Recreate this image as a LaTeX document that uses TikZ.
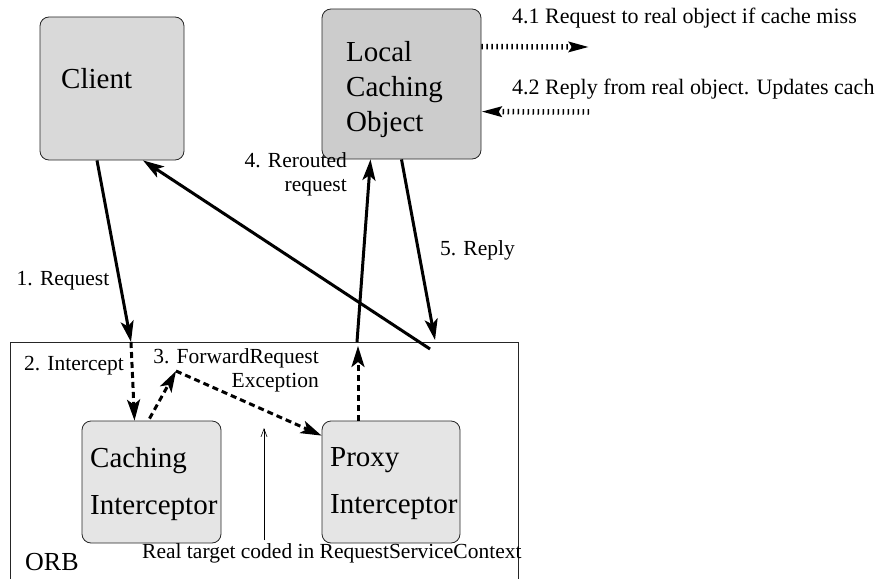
\documentclass[tikz,border=0pt]{standalone}
\usepackage{fontspec}
\setmainfont{Liberation Serif}
\usetikzlibrary{arrows.meta}

\tikzset{
  box/.style={draw=black!85, line width=.8pt, rounded corners=9pt},
  boxtext/.style={inner sep=0pt, anchor=west, align=left,
    font=\fontsize{29}{35}\selectfont},
  lbl/.style={inner sep=0pt, font=\fontsize{21.5}{24}\selectfont},
  flow/.style={line width=3pt, -{Stealth[length=21pt,width=13pt,inset=5pt]}},
  hop/.style={flow, dash pattern=on 6pt off 4pt},
  remote/.style={line width=5.5pt, dash pattern=on 1.5pt off 3.5pt,
    -{Stealth[length=20pt,width=10pt,inset=3pt]}}
}

\begin{document}
\begin{tikzpicture}[x=1pt, y=-1pt]
\useasboundingbox (0,0) rectangle (875,578);

% boxes
\node[box, fill=black!15, minimum width=144, minimum height=143] (client) at (112,88.5) {};
\node[box, fill=black!20, minimum width=159, minimum height=150] (lco) at (401.5,84) {};
\node[draw=black!85, line width=.8pt, anchor=north west, minimum width=508,
  minimum height=260] (orb) at (10,342) {};
\node[box, fill=black!10, minimum width=139, minimum height=122] (cachint) at (151.5,482) {};
\node[box, fill=black!10, minimum width=138, minimum height=122] (proxyint) at (391,482) {};

\node[boxtext] (clientlbl) at (61,79) {Client};
\node[boxtext] (lcolbl) at (346,90) {Local\\Caching\\Object};
\node[boxtext, font=\fontsize{29}{47}\selectfont] (cachlbl) at (90,484) {Caching\\Interceptor};
\node[boxtext, font=\fontsize{29}{47}\selectfont] (proxlbl) at (330,484) {Proxy\\Interceptor};
\node[boxtext, font=\fontsize{26}{30}\selectfont] (orblbl) at (25,562) {ORB};

% points on the ORB border and outside
\coordinate (reqin) at (131,342);
\coordinate (fwd) at (176,371);
\coordinate (proxyout) at (358,346);
\coordinate (rerout) at (357,342);
\coordinate (replyin) at (435,340);
\coordinate (replyout) at (430,349);
\coordinate (missout) at (589,47);
\coordinate (missin) at (589,112);
\coordinate (ctxfoot) at (264,540);
\coordinate (ctxtip) at (264,428);

% flow
\draw[flow] ([xshift=-15pt]client.south) -- (reqin);
\draw[hop] (reqin) -- ([xshift=-17pt]cachint.north);
\draw[hop] ([xshift=-2pt,yshift=2pt]cachint.north) -- (fwd);
\draw[hop] (fwd) -- ([yshift=-15pt]proxyint.north west);
\draw[hop] ([xshift=-33pt]proxyint.north) -- (proxyout);
\draw[flow] (rerout) -- ([xshift=-31pt]lco.south);
\draw[flow] (lco.south) -- (replyin);
\draw[flow] (replyout) -- ([xshift=31pt]client.south);
\draw[remote] ([yshift=-38pt]lco.north east) -- (missout);
\draw[remote] (missin) -- ([yshift=-103pt]lco.north east);
\draw[line width=.6pt, -{Straight Barb[length=8pt,width=6pt]}] (ctxfoot) -- (ctxtip);

% labels
\node[lbl] (l1) at (63,281) {1. Request};
\node[lbl] (l2) at (74,366) {2. Intercept};
\node[lbl, anchor=east, align=right] (l3) at (319,370) {3. ForwardRequest\\Exception};
\node[lbl, anchor=east, align=right] (l4) at (347,174) {4. Rerouted\\request};
\node[lbl, anchor=west] (l5) at (440,250) {5. Reply};
\node[lbl, anchor=west, font=\fontsize{22}{24}\selectfont] (l41) at (512,18) {4.1 Request to real object if cache miss};
\node[lbl, anchor=west, font=\fontsize{22}{24}\selectfont] (l42) at (512,89) {4.2 Reply from real object. Updates cach};
\node[lbl, anchor=west] (lctx) at (142,553) {Real target coded in RequestServiceContext};
\end{tikzpicture}
\end{document}
